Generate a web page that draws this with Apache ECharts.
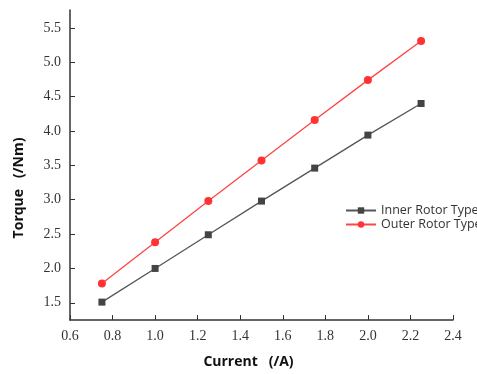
<!DOCTYPE html>
<html><head><meta charset="utf-8">
<script src="https://cdn.jsdelivr.net/npm/echarts@6/dist/echarts.min.js"></script>
<style>html,body{margin:0;padding:0;background:#fff}#c{width:477px;height:374px}</style>
</head><body><div id="c"></div>
<script>
const currents = [0.75, 1.0, 1.25, 1.5, 1.75, 2.0, 2.25];
const innerTorque = [1.51, 2.00, 2.49, 2.98, 3.46, 3.94, 4.40];
const outerTorque = [1.78, 2.38, 2.98, 3.57, 4.16, 4.74, 5.31];
const yTicks = [1.5, 2.0, 2.5, 3.0, 3.5, 4.0, 4.5, 5.0, 5.5];
const seriesNames = ['Inner Rotor Type', 'Outer Rotor Type'];

const chart = echarts.init(document.getElementById('c'));
const tickFont = {fontFamily: 'Liberation Serif', fontSize: 14, color: '#333'};
chart.setOption({
  animation: false,
  grid: {left: 70, right: 24, top: 10, bottom: 54},
  legend: {
    orient: 'vertical', left: 340, top: 199, itemGap: 1, itemWidth: 30, itemHeight: 8,
    textStyle: {fontFamily: 'Open Sans', fontSize: 12.5, color: '#333', width: 110, overflow: 'none'},
    data: seriesNames
  },
  xAxis: {
    type: 'value', min: 0.6, max: 2.4, interval: 0.2,
    name: 'Current   (/A)', nameLocation: 'middle', nameGap: 35,
    nameTextStyle: {fontFamily: 'Open Sans', fontWeight: 'bold', fontSize: 14, color: '#111', padding: [0, 26, 0, 0]},
    axisLine: {lineStyle: {color: '#333', width: 1.5}},
    axisTick: {inside: true, length: 5, lineStyle: {color: '#333'}},
    axisLabel: Object.assign({margin: 9, formatter: v => v.toFixed(1)}, tickFont),
    splitLine: {show: false}
  },
  yAxis: {
    type: 'value', min: 1.25, max: 5.76,
    name: 'Torque   (/Nm)', nameLocation: 'middle', nameGap: 44,
    nameTextStyle: {fontFamily: 'Open Sans', fontWeight: 'bold', fontSize: 14, color: '#111', padding: [0, 46, 0, 0]},
    axisLine: {show: true, lineStyle: {color: '#333', width: 1.5}},
    axisTick: {inside: true, length: 5, lineStyle: {color: '#333'}, customValues: yTicks},
    axisLabel: Object.assign({margin: 9, customValues: yTicks, formatter: v => v.toFixed(1)}, tickFont),
    splitLine: {show: false}
  },
  series: [
    {name: seriesNames[0], type: 'line', symbol: 'rect', symbolSize: 7,
     data: currents.map((x, i) => [x, innerTorque[i]]),
     lineStyle: {color: '#555', width: 1.3}, itemStyle: {color: '#444'}},
    {name: seriesNames[1], type: 'line', symbol: 'circle', symbolSize: 8,
     data: currents.map((x, i) => [x, outerTorque[i]]),
     lineStyle: {color: '#f44', width: 1.3}, itemStyle: {color: '#f33'}}
  ]
});
</script></body></html>
